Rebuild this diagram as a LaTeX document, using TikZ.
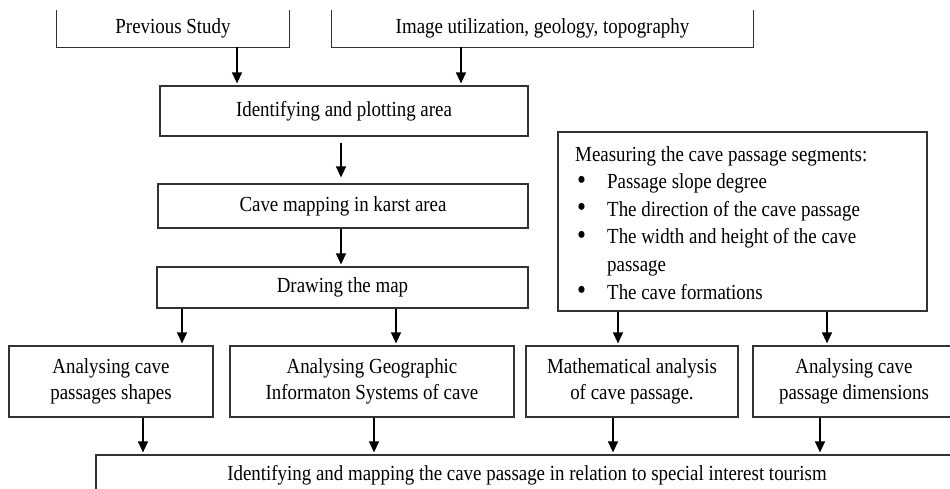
\documentclass[tikz,border=0pt]{standalone}
\usepackage{fontspec}
\setmainfont{Liberation Serif}[FakeStretch=0.88]
\usetikzlibrary{arrows.meta}
\newcommand{\bigbul}{\hspace{2pt}\raisebox{-0.5pt}{\scalebox{1.35}{\textbullet}}}
\begin{document}
\begin{tikzpicture}[x=1pt,y=-1pt,
  boxline/.style={draw=black!80, line width=1.2pt},
  txt/.style={inner sep=0pt, align=center, font=\fontsize{21.5}{26}\selectfont},
  bx/.style={txt, boxline},
  arr/.style={-{Triangle[width=10pt,length=11pt]}, line width=1.3pt, shorten >=2pt}]
\useasboundingbox (0,0) rectangle (950,488);
\clip (0,0) rectangle (950,488);
% top open boxes
\node[txt, minimum width=232pt, minimum height=37pt] (prev) at (173,28.5) {Previous Study};
\draw[boxline] (prev.north west) -- (prev.south west) -- (prev.south east) -- (prev.north east);
\node[txt, minimum width=421pt, minimum height=37pt] (img) at (542.5,28.5) {Image utilization, geology, topography};
\draw[boxline] (img.north west) -- (img.south west) -- (img.south east) -- (img.north east);
% main chain
\node[bx, minimum width=368pt, minimum height=50pt] (ident) at (344,111) {Identifying and plotting area};
\node[bx, minimum width=370pt, minimum height=44pt] (cave) at (343,206) {Cave mapping in karst area};
\node[bx, minimum width=371pt, minimum height=41pt] (map) at (342.5,287.5) {Drawing the map};
% measuring box
\node[bx, minimum width=369pt, minimum height=179pt] (meas) at (742.5,221.5) {};
\node[txt, anchor=base west, align=left] (meastext) at (575,161) {%
\fontsize{21.5}{27.6}\selectfont
\begin{tabular}[t]{@{}p{32pt}@{}l@{}}
\multicolumn{2}{@{}l@{}}{Measuring the cave passage segments:}\\
\bigbul & Passage slope degree\\
\bigbul & The direction of the cave passage\\
\bigbul & The width and height of the cave\\
 & passage\\
\bigbul & The cave formations
\end{tabular}};
% analysis row
\node[bx, minimum width=204pt, minimum height=71pt] (r1) at (111,381.5) {Analysing cave\\passages shapes};
\node[bx, minimum width=284pt, minimum height=71pt] (r2) at (372,381.5) {Analysing Geographic\\Informaton Systems of cave};
\node[bx, minimum width=212pt, minimum height=71pt] (r3) at (632,381.5) {Mathematical analysis\\of cave passage.};
\node[bx, minimum width=202pt, minimum height=71pt] (r4) at (854,381.5) {Analysing cave\\passage dimensions};
% final
\node[bx, minimum width=862pt, minimum height=40pt] (final) at (527,475) {Identifying and mapping the cave passage in relation to special interest tourism};
% arrow x positions
\coordinate (xa) at (237,0);
\coordinate (xb) at (461,0);
\coordinate (xc) at (341,0);
\coordinate (xd) at (182,0);
\coordinate (xe) at (396,0);
\coordinate (xf) at (618,0);
\coordinate (xg) at (827,0);
\coordinate (xh) at (143,0);
\coordinate (xi) at (374,0);
\coordinate (xj) at (613,0);
\coordinate (xk) at (820,0);
% arrows
\draw[arr] (xa |- prev.south) -- (xa |- ident.north);
\draw[arr] (xb |- img.south) -- (xb |- ident.north);
\draw[arr, shorten <=6pt, shorten >=6pt] (xc |- ident.south) -- (xc |- cave.north);
\draw[arr] (xc |- cave.south) -- (xc |- map.north);
\draw[arr] (xd |- map.south) -- (xd |- r1.north);
\draw[arr] (xe |- map.south) -- (xe |- r2.north);
\draw[arr] (xf |- meas.south) -- (xf |- r3.north);
\draw[arr] (xg |- meas.south) -- (xg |- r4.north);
\draw[arr] (xh |- r1.south) -- (xh |- final.north);
\draw[arr] (xi |- r2.south) -- (xi |- final.north);
\draw[arr] (xj |- r3.south) -- (xj |- final.north);
\draw[arr] (xk |- r4.south) -- (xk |- final.north);
\end{tikzpicture}
\end{document}
